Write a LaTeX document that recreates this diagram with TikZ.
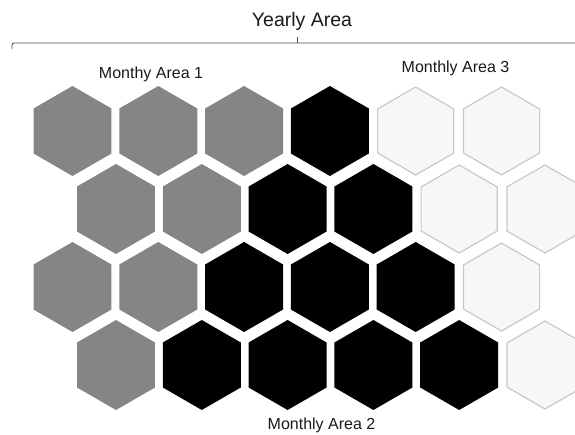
\documentclass[tikz,border=0pt]{standalone}
\usepackage{fontspec}
\setmainfont{Liberation Sans}
\usetikzlibrary{shapes.geometric, positioning}

\definecolor{cellgrey}{HTML}{858585}
\definecolor{cellpale}{HTML}{F7F7F7}
\definecolor{cellline}{HTML}{C8C8C8}

\begin{document}
\begin{tikzpicture}[x=1pt, y=-1pt,
    hexcell/.style={regular polygon, regular polygon sides=6,
                    shape border rotate=30, minimum size=90pt, inner sep=0pt},
    areaone/.style={hexcell, fill=cellgrey},
    areatwo/.style={hexcell, fill=black},
    areathree/.style={hexcell, fill=cellpale, draw=cellline, line width=1.2pt,
                      minimum size=88pt},
    lbl/.style={font=\fontsize{16}{19}\selectfont, inner sep=0pt, text=black!90}]
  \useasboundingbox (0,0) rectangle (575,435);
  \clip (0,0) rectangle (575,435);

  % the grid of cells, row by row
  \foreach \r/\shift/\cells in {
      1/0/{areaone,areaone,areaone,areatwo,areathree,areathree},
      2/1/{areaone,areaone,areatwo,areatwo,areathree,areathree},
      3/0/{areaone,areaone,areatwo,areatwo,areatwo,areathree},
      4/1/{areaone,areatwo,areatwo,areatwo,areatwo,areathree}} {
    \foreach \c [count=\i] in \cells
      \node[\c] (h\r\i) at ({72.5+43.5*\shift+85.8*(\i-1)},{131+78*(\r-1)}) {};
  }

  % yearly bracket
  \coordinate (yl) at (12,49);
  \coordinate (yr) at (575,43);
  \coordinate (ym) at (297.5,43);
  \draw[line width=0.9pt, black!70, rounded corners=2pt] (yl) |- (yr);
  \draw[line width=0.9pt, black!70] (ym) -- ++(0,-6);
  \node[lbl, font=\fontsize{19.5}{23}\selectfont] (yearly) at (302,21) {Yearly Area};

  \node[lbl] (month1) at (151,74) {Monthy Area 1};
  \node[lbl] (month3) at (455.5,68) {Monthly Area 3};
  \node[lbl] (month2) at (321.5,425) {Monthly Area 2};
\end{tikzpicture}
\end{document}
